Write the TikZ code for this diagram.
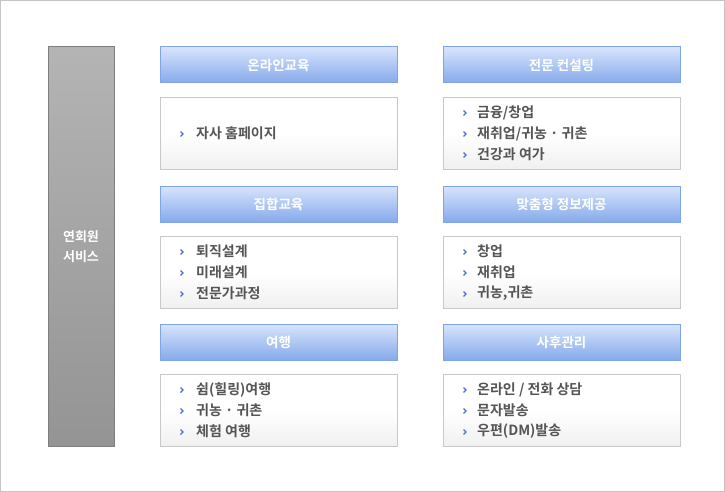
\documentclass[tikz,border=0pt]{standalone}
\usepackage{fontspec}
\setmainfont{Noto Sans CJK KR}[BoldFont={Noto Sans CJK KR Bold}]
\definecolor{hdtop}{HTML}{D8E4FC}
\definecolor{hdbot}{HTML}{86AAEA}
\definecolor{hdline}{HTML}{80A4E8}
\definecolor{bxline}{HTML}{C8C8C8}
\definecolor{bxbot}{HTML}{F0F0F0}
\definecolor{txtgray}{HTML}{555555}
\definecolor{bulletblue}{HTML}{4A70CC}
\definecolor{lefttop}{HTML}{B4B4B4}
\definecolor{leftbot}{HTML}{949494}
\definecolor{leftline}{HTML}{7E7E7E}
\definecolor{frameline}{HTML}{C4C4C4}
\tikzset{
  hdr/.style={draw=hdline, line width=1pt, top color=hdtop, bottom color=hdbot,
    minimum width=237pt, minimum height=36pt, inner sep=0pt,
    text=white, font=\fontsize{13.5}{15}\selectfont\bfseries},
  cbox/.style={draw=bxline, line width=1pt, top color=white, bottom color=bxbot,
    middle color=white, minimum width=237pt, minimum height=72pt, inner sep=0pt},
  item/.style={anchor=west, inner sep=0pt, text=txtgray,
    font=\fontsize{14}{16}\selectfont\bfseries},
  lbox/.style={draw=leftline, line width=1pt, top color=lefttop, bottom color=leftbot,
    minimum width=66pt, minimum height=399pt, inner sep=0pt,
    text=white, align=center, font=\fontsize{13}{20}\selectfont\bfseries},
  chev/.style={draw=bulletblue, line width=1.1pt}
}
\newcommand{\bul}[2]{\draw[chev] (#1-1.5,#2-2.5) -- (#1+1,#2) -- (#1-1.5,#2+2.5);}
\begin{document}
\begin{tikzpicture}[x=1pt,y=-1pt]
\useasboundingbox (0,0) rectangle (725,492);
\draw[frameline, line width=1pt] (0.5,0.5) rectangle (724.5,491.5);

\node[lbox] (left) at (81,246.5) {연회원\\서비스};

% column 1
\node[hdr] (h1) at (278.5,65) {온라인교육};
\node[cbox] (b1) at (278.5,133.5) {};
\node[hdr] (h2) at (278.5,204) {집합교육};
\node[cbox] (b2) at (278.5,272.5) {};
\node[hdr] (h3) at (278.5,342) {여행};
\node[cbox] (b3) at (278.5,410.5) {};

% column 2
\node[hdr] (h4) at (561.5,65) {전문 컨설팅};
\node[cbox] (b4) at (561.5,133.5) {};
\node[hdr] (h5) at (561.5,204) {맞춤형 정보제공};
\node[cbox] (b5) at (561.5,272.5) {};
\node[hdr] (h6) at (561.5,342) {사후관리};
\node[cbox] (b6) at (561.5,410.5) {};

% items col 1
\node[item] (i11) at (196,133.5) {자사 홈페이지}; \bul{182}{134}
\node[item] (i21) at (196,251.5) {퇴직설계}; \bul{182}{252}
\node[item] (i22) at (196,272.5) {미래설계}; \bul{182}{273}
\node[item] (i23) at (196,293.5) {전문가과정}; \bul{182}{294}
\node[item] (i31) at (196,389.5) {쉼(힐링)여행}; \bul{182}{390}
\node[item] (i32) at (196,410.5) {귀농 · 귀촌}; \bul{182}{411}
\node[item] (i33) at (196,431.5) {체험 여행}; \bul{182}{432}

% items col 2
\node[item] (i41) at (477,112.5) {금융/창업}; \bul{465}{113}
\node[item] (i42) at (477,133.5) {재취업/귀농 · 귀촌}; \bul{465}{134}
\node[item] (i43) at (477,154.5) {건강과 여가}; \bul{465}{155}
\node[item] (i51) at (477,251.5) {창업}; \bul{465}{252}
\node[item] (i52) at (477,272.5) {재취업}; \bul{465}{273}
\node[item] (i53) at (477,293.5) {귀농,귀촌}; \bul{465}{294}
\node[item] (i61) at (477,389.5) {온라인 / 전화 상담}; \bul{465}{390}
\node[item] (i62) at (477,410.5) {문자발송}; \bul{465}{411}
\node[item] (i63) at (477,431.5) {우편(DM)발송}; \bul{465}{432}
\end{tikzpicture}
\end{document}
